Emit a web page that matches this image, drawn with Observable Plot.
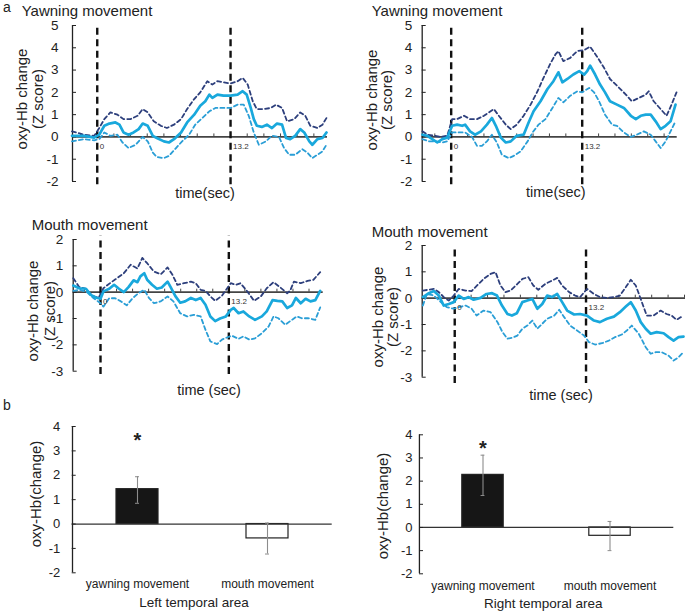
<!DOCTYPE html>
<html><head><meta charset="utf-8">
<script src="https://cdn.jsdelivr.net/npm/d3@7"></script>
<script src="https://cdn.jsdelivr.net/npm/@observablehq/plot@0.6"></script>
<style>
body{margin:0;background:#fff;}
#fig{position:relative;width:685px;height:612px;overflow:hidden;background:#fff;font-family:"Liberation Sans",Arial,sans-serif;color:#222;}
#fig svg{position:absolute;overflow:visible;}
.lab{position:absolute;white-space:nowrap;font-size:15px;line-height:1;}
.c{transform:translate(-50%,-50%);}
.l{transform:translate(0,-50%);}
.rot{transform:translate(-50%,-50%) rotate(-90deg);text-align:center;}
</style></head><body><div id="fig"></div>
<script>
// ---------------- data ----------------
const eventTimes = [0, 13.2];
const eventLabels = ["0", "13.2"];
const yTicksTop = [-2, -1, 0, 1, 2, 3, 4, 5];
const yTicksMid = [-3, -2, -1, 0, 1, 2];
const yTicksBar = [-2, -1, 0, 1, 2, 3, 4];

// Panel a, left, yawning
const a1UpperT = [-2.5,-1.3,-0.3,0.2,0.7,1.3,2.0,2.6,3.3,4.0,4.5,5.0,5.6,6.3,6.9,7.6,8.3,8.9,9.6,10.2,10.9,11.4,11.9,12.5,13.2,13.9,14.4,14.9,15.4,15.8,16.5,17.2,17.7,18.3,18.8,19.5,20.1,20.6,21.1,21.8,22.3,22.7];
const a1UpperV = [0.25,0.1,0.05,0.4,0.8,1.1,1.0,0.8,0.8,0.95,1.25,1.1,0.7,0.5,0.4,0.55,0.8,1.25,1.7,2.0,2.5,2.35,2.5,2.45,2.4,2.5,2.65,2.35,1.6,1.25,1.25,1.3,1.45,1.3,0.7,0.8,1.1,0.95,0.5,0.4,0.55,0.85];
const a1MeanT = [-2.5,-1.3,-0.3,0.2,0.7,1.2,1.8,2.2,2.6,3.1,3.6,4.1,4.5,5.0,5.5,5.9,6.6,7.1,7.6,8.3,8.9,9.6,10.2,10.7,11.1,11.4,11.9,12.5,13.2,13.9,14.4,14.8,15.2,15.5,15.8,16.3,16.8,17.3,17.8,18.3,18.7,19.1,19.6,20.1,20.5,21.0,21.3,21.8,22.3,22.7];
const a1MeanV = [0.05,0.05,-0.03,0.1,0.5,0.6,0.65,0.55,0.2,0.1,0.2,0.35,0.6,0.5,0.05,-0.05,-0.2,-0.25,-0.1,0.2,0.65,1.0,1.4,1.6,1.9,1.75,1.9,1.85,1.85,1.9,2.05,1.9,1.3,0.8,0.5,0.45,0.55,0.4,0.6,0.55,-0.05,-0.1,0.05,0.35,0.2,-0.2,-0.35,-0.1,-0.05,0.2];
const a1LowerT = [-2.5,-1.3,-0.3,0.2,0.7,1.3,2.0,2.5,3.1,3.8,4.5,5.0,5.5,5.9,6.6,7.1,7.8,8.4,9.1,9.7,10.4,11.1,11.7,12.4,13.2,13.9,14.5,15.0,15.5,16.0,16.7,17.3,18.0,18.5,19.0,19.6,20.3,20.8,21.3,21.8,22.3,22.7];
const a1LowerV = [-0.2,-0.1,-0.15,-0.1,0.2,0.05,0.1,-0.25,-0.5,-0.35,0,-0.2,-0.7,-0.9,-0.95,-0.85,-0.5,-0.2,0.1,0.55,0.85,1.15,1.3,1.3,1.3,1.45,1.45,0.95,0.2,-0.35,-0.2,0.05,0,-0.5,-0.8,-0.8,-0.55,-0.7,-0.95,-0.8,-0.65,-0.35];

// Panel a, right, yawning
const a2UpperT = [-2.9,-2.4,-1.7,-1.1,-0.4,0.1,0.6,1.3,1.9,2.6,3.3,3.8,4.3,4.8,5.5,6.0,6.6,7.3,8.0,8.7,9.3,10.0,10.5,10.8,11.3,12.0,12.7,13.4,14.0,14.7,15.4,16.0,16.7,17.6,18.2,18.9,19.6,19.9,20.4,21.1,21.7,22.2,22.7];
const a2UpperV = [0.25,0.1,0.05,0,0.05,0.8,0.8,0.95,0.8,0.8,0.95,1.1,1.25,0.95,0.55,0.35,0.55,0.95,1.45,2.05,2.65,3.3,3.7,3.85,3.4,3.55,3.85,3.9,4.05,3.6,3.1,2.6,2.3,1.9,1.6,1.75,1.9,2.05,1.6,1.25,0.95,1.45,2.0];
const a2MeanT = [-2.9,-2.4,-1.9,-1.4,-0.9,-0.4,0.1,0.6,1.1,1.4,1.9,2.4,3.0,3.6,4.1,4.5,5.0,5.5,6.0,6.6,7.3,7.8,8.3,9.0,9.7,10.3,10.8,11.2,11.7,12.3,12.9,13.4,13.7,14.0,14.5,15.0,15.5,16.0,16.7,17.4,18.1,18.6,19.1,19.6,20.1,20.6,21.1,21.6,22.1,22.6];
const a2MeanV = [0.1,0.05,-0.1,-0.25,-0.1,-0.03,0.5,0.55,0.5,0.55,0.25,0.1,0.25,0.55,0.85,0.5,-0.03,-0.25,-0.2,0.05,0.1,0.65,1.15,1.6,2.15,2.5,2.9,2.45,2.6,2.8,2.95,2.8,2.95,3.2,2.8,2.35,2.0,1.6,1.45,1.3,0.95,0.8,0.95,1.0,1.0,0.7,0.35,0.5,0.7,1.45];
const a2LowerT = [-2.9,-2.2,-1.6,-0.9,-0.4,0.1,0.8,1.4,2.1,2.6,3.1,3.6,4.1,4.6,5.1,5.8,6.3,7.0,7.7,8.2,8.8,9.5,10.2,10.8,11.3,12.0,12.7,13.2,13.9,14.4,14.9,15.5,16.2,16.7,17.4,18.1,18.7,19.4,20.1,20.6,21.1,21.6,22.1,22.6];
const a2LowerV = [-0.1,-0.2,-0.2,-0.25,-0.2,0.2,0.2,0.2,0,-0.4,-0.4,-0.2,0.1,-0.25,-0.8,-0.95,-0.85,-0.65,-0.2,0.2,0.55,0.8,1.3,1.75,1.55,1.85,2.05,2.0,2.2,2.0,1.6,1.0,0.55,0.5,0.2,0,0.1,0.25,0.1,-0.2,-0.5,-0.2,0.25,0.7];

// Panel a, left, mouth
const a3UpperT = [-2.8,-2.2,-1.5,-0.9,-0.2,0.3,1.0,1.7,2.4,3.1,3.8,4.3,4.8,5.5,6.2,6.9,7.4,7.9,8.6,9.3,9.8,10.3,10.8,11.3,11.8,12.5,13.4,13.9,14.4,15.1,15.8,16.5,17.1,17.8,18.5,19.2,19.5,19.9,20.6,21.3,21.9,22.6];
const a3UpperV = [0.53,0.2,0.13,-0.13,-0.22,0.15,0.35,0.53,0.72,1.04,0.9,1.3,1.1,0.78,0.68,0.94,0.66,0.28,0.34,0.4,0.34,0.09,0.05,-0.16,-0.33,-0.13,0.34,0.28,0.34,0.03,-0.33,-0.16,0.15,0.38,0.18,-0.04,0.05,0.4,0.34,0.43,0.47,0.76];
const a3MeanT = [-2.8,-2.2,-1.5,-1.0,-0.5,0,0.3,0.9,1.4,1.9,2.4,2.9,3.4,3.8,4.1,4.5,4.8,5.3,5.8,6.3,6.9,7.2,7.7,8.2,8.7,9.3,9.8,10.3,10.8,11.3,11.8,12.3,12.9,13.4,13.7,14.2,14.7,15.3,15.9,16.6,17.1,17.7,18.2,18.7,19.2,19.7,20.1,20.6,21.1,21.6,22.1,22.6];
const a3MeanV = [0.25,0.15,0.13,-0.1,-0.2,-0.25,0.03,0.13,0.28,0.13,0,0.2,0.45,0.38,0.6,0.72,0.47,0.28,0.13,0.18,0.4,0.2,-0.15,-0.4,-0.35,-0.22,-0.3,-0.22,-0.48,-0.92,-1.1,-1.0,-0.92,-0.67,-0.6,-0.8,-0.73,-0.92,-1.05,-0.92,-0.73,-0.3,-0.33,-0.35,-0.6,-0.5,-0.22,-0.42,-0.25,-0.35,-0.3,0.05];
const a3LowerT = [-2.8,-2.1,-1.4,-0.7,0,0.3,0.9,1.5,2.1,2.7,3.3,3.9,4.5,5.0,5.5,6.2,6.9,7.5,8.2,8.9,9.6,10.3,10.8,11.3,12.0,12.5,13.0,13.5,14.2,14.7,15.3,15.9,16.6,17.3,17.8,18.3,19.0,19.5,20.2,20.7,21.4,22.1,22.6];
const a3LowerV = [0.05,0.09,0,-0.23,-0.42,-0.55,-0.23,-0.23,-0.35,-0.5,-0.23,-0.04,0.09,-0.23,-0.42,-0.35,-0.16,-0.35,-0.8,-0.92,-0.86,-0.92,-1.43,-1.87,-1.97,-1.8,-1.72,-1.65,-1.77,-1.68,-1.8,-1.75,-1.56,-1.3,-0.92,-0.99,-1.24,-1.1,-0.92,-0.99,-0.99,-1.05,-0.58];

// Panel a, right, mouth
const a4UpperT = [-3.2,-2.6,-2.1,-1.6,-1.1,-0.6,-0.1,0.4,1.1,1.7,2.4,2.9,3.6,4.1,4.6,5.1,5.6,6.3,6.8,7.4,7.9,8.4,9.1,9.8,10.3,10.8,11.5,12.1,12.6,13.3,14.0,14.6,15.3,16.0,16.6,17.2,17.7,18.2,18.7,19.3,20.0,20.7,21.3,21.8,22.3,23.0];
const a4UpperV = [0.29,0.32,0.35,0.23,0.04,-0.09,0.1,0.35,0.29,0.27,0.54,0.73,0.92,0.99,0.48,0.23,0.29,0.54,0.73,0.8,0.48,0.32,0.54,0.67,0.77,0.48,0.23,0.1,0.04,0.35,0.16,0.04,0.01,0.04,0.1,0.42,0.7,0.48,-0.03,-0.66,-0.66,-0.47,-0.6,-0.66,-0.82,-0.66];
const a4MeanT = [-3.2,-2.6,-2.1,-1.6,-1.1,-0.6,-0.1,0.4,0.9,1.4,1.9,2.6,3.2,3.75,4.25,4.75,5.3,5.75,6.25,6.8,7.3,7.8,8.3,8.8,9.3,9.8,10.3,10.8,11.3,12.0,12.6,13.3,14.0,14.6,15.3,16.0,16.6,17.2,17.7,18.2,18.7,19.2,19.7,20.3,21.0,21.5,22.0,22.5,23.0];
const a4MeanV = [0.04,0.19,0.27,0.1,-0.28,-0.22,-0.15,0.1,-0.03,0.04,-0.06,0.01,0.16,0.19,0.1,-0.28,-0.6,-0.66,-0.57,-0.15,-0.09,-0.03,-0.4,-0.22,0.1,0.04,0.16,-0.15,-0.47,-0.62,-0.6,-0.66,-0.85,-0.91,-0.78,-0.7,-0.53,-0.32,-0.15,-0.47,-0.91,-1.16,-1.35,-1.29,-1.33,-1.48,-1.61,-1.48,-1.46];
const a4LowerT = [-3.2,-2.8,-2.1,-1.4,-0.8,-0.1,0.4,1.1,1.7,2.2,2.9,3.6,4.3,4.8,5.3,5.8,6.3,6.8,7.3,7.8,8.3,8.8,9.3,10.0,10.5,11.0,11.6,12.3,13.0,13.5,14.1,14.8,15.5,16.1,16.8,17.3,17.8,18.5,19.2,19.7,20.2,20.8,21.5,22.0,22.5,23.0];
const a4LowerV = [-0.28,0.16,0.1,-0.15,-0.34,-0.4,-0.34,-0.28,-0.4,-0.66,-0.47,-0.53,-0.91,-1.29,-1.54,-1.5,-1.42,-1.16,-1.04,-0.85,-1.16,-0.97,-0.78,-0.66,-0.44,-0.72,-1.04,-1.23,-1.42,-1.67,-1.76,-1.71,-1.61,-1.48,-1.38,-1.23,-1.04,-1.35,-1.86,-2.11,-2.05,-2.05,-2.18,-2.37,-2.24,-2.05];

// Panel b
const barCats = ["yawning movement", "mouth movement"];
const leftMean = [1.43, -0.59];
const leftLow = [0.85, -1.23];
const leftHigh = [1.94, 0.04];
const rightMean = [2.27, -0.36];
const rightLow = [1.38, -1.0];
const rightHigh = [3.12, 0.26];
const sigText = ["*", ""];
const sigLevel = [3.43, 3.41];

// ---------------- drawing ----------------
const FONT = '"Liberation Sans", Arial, sans-serif';
const NAVY = "#2d3f7c", CYAN = "#19a8dc", CYAN2 = "#2a9ed6";
const fig = document.getElementById("fig");
const fmt = d => String(d);
const pairs = (T, V) => d3.range(Math.min(T.length, V.length)).map(i => ({t: T[i], v: V[i]}));

function place(svg, left, top) {
  svg.style.left = left + "px"; svg.style.top = top + "px";
  fig.appendChild(svg);
}

function linePanel(p) {
  const [y0, y1] = p.y;
  const pxPerUnit = (p.h - p.mt - p.mb) / (y1 - y0);
  const ticks = d3.range(-2, 16).map(k => +(k * 1.65).toFixed(2)).filter(t => t > p.x[0] + 0.2 && t < p.x[1]);
  const ev = eventTimes.map((t, i) => ({t, label: eventLabels[i]}));
  const svg = Plot.plot({
    width: p.w, height: p.h,
    marginLeft: p.ml, marginRight: p.mr, marginTop: p.mt, marginBottom: p.mb,
    x: {domain: p.x, axis: null},
    y: {domain: p.y},
    style: {background: "transparent", overflow: "visible", fontFamily: FONT, color: "#222"},
    marks: [
      Plot.ruleY([0], {stroke: "#444", strokeWidth: 1.7}),
      Plot.ruleX(ticks, {x: d => d, y1: 0, y2: 3 / pxPerUnit, stroke: "#444", strokeWidth: 1}),
      Plot.ruleX([p.x[0]], {x: d => d, y1: y0, y2: y1, stroke: "#222", strokeWidth: 1.3}),
      Plot.axisY(p.yTicks, {tickSize: -4, tickPadding: p.gap + 4, tickFormat: fmt, label: null, fontSize: 13.5}),
      Plot.ruleX(eventTimes, {x: d => d, y1: p.dash[0], y2: p.dash[1], stroke: "#111", strokeWidth: 2.4, strokeDasharray: "7,4.5"}),
      Plot.line(pairs(p.upper[0], p.upper[1]), {x: "t", y: "v", stroke: NAVY, strokeWidth: 1.8, strokeDasharray: "4,3"}),
      Plot.line(pairs(p.lower[0], p.lower[1]), {x: "t", y: "v", stroke: CYAN2, strokeWidth: 1.8, strokeDasharray: "4,3"}),
      Plot.line(pairs(p.mean[0], p.mean[1]), {x: "t", y: "v", stroke: CYAN, strokeWidth: 2.7}),
      Plot.text(ev, {x: "t", y: 0, text: "label", dx: 2.5, dy: 9.5, textAnchor: "start", fontSize: 8, fill: "#333"})
    ]
  });
  place(svg, p.left, p.top);
}

linePanel({left: 0, top: 0, w: 340, h: 200, ml: 72, mr: 13, mt: 25, mb: 19,
  x: [-2.45, 22.8], y: [-2, 5], yTicks: yTicksTop, dash: [-2.15, 5.05], gap: 14,
  upper: [a1UpperT, a1UpperV], mean: [a1MeanT, a1MeanV], lower: [a1LowerT, a1LowerV]});
linePanel({left: 340, top: 0, w: 345, h: 200, ml: 81.7, mr: 8.3, mt: 25, mb: 19,
  x: [-2.92, 22.77], y: [-2, 5], yTicks: yTicksTop, dash: [-2.15, 5.05], gap: 10,
  upper: [a2UpperT, a2UpperV], mean: [a2MeanT, a2MeanV], lower: [a2LowerT, a2LowerV]});
linePanel({left: 0, top: 200, w: 340, h: 180, ml: 72.7, mr: 17.3, mt: 39, mb: 9.3,
  x: [-2.81, 22.91], y: [-3, 2], yTicks: yTicksMid, dash: [-3.13, 2.12], gap: 10,
  upper: [a3UpperT, a3UpperV], mean: [a3MeanT, a3MeanV], lower: [a3LowerT, a3LowerV]});
linePanel({left: 340, top: 200, w: 345, h: 190, ml: 81.7, mr: 0, mt: 45, mb: 13.3,
  x: [-3.27, 23.2], y: [-3, 2], yTicks: yTicksMid, dash: [-3.24, 2.0], gap: 10,
  upper: [a4UpperT, a4UpperV], mean: [a4MeanT, a4MeanV], lower: [a4LowerT, a4LowerV]});

function barPanel(p) {
  const data = barCats.map((c, i) => ({c, m: p.mean[i], lo: p.lo[i], hi: p.hi[i], sig: sigText[i], i}));
  const step = (p.w - p.ml - p.mr) / barCats.length;
  const svg = Plot.plot({
    width: p.w, height: p.h,
    marginLeft: p.ml, marginRight: p.mr, marginTop: p.mt, marginBottom: p.mb,
    x: {domain: barCats, padding: 0},
    y: {domain: [-2, 4]},
    style: {background: "transparent", overflow: "visible", fontFamily: FONT, color: "#222"},
    marks: [
      Plot.barY(data, {x: "c", y: "m", fill: d => d.i === 0 ? "#161616" : "#ffffff", stroke: "#222", strokeWidth: 1.2, insetLeft: p.inset, insetRight: p.inset}),
      Plot.ruleY([0], {stroke: "#333", strokeWidth: 1.3}),
      Plot.ruleX(data, {x: "c", y1: "lo", y2: "hi", stroke: "#8c8c8c", strokeWidth: 1.1}),
      Plot.tickY(data, {x: "c", y: "lo", stroke: "#8c8c8c", insetLeft: step / 2 - 2, insetRight: step / 2 - 2}),
      Plot.tickY(data, {x: "c", y: "hi", stroke: "#8c8c8c", insetLeft: step / 2 - 2, insetRight: step / 2 - 2}),
      Plot.ruleX([barCats[0]], {x: d => d, dx: -step / 2, y1: -2, y2: 4, stroke: "#222", strokeWidth: 1.3}),
      Plot.axisY(yTicksBar, {tickSize: -4, tickPadding: p.gap + 4, tickFormat: fmt, label: null, fontSize: 13}),
      Plot.axisX({tickSize: 0, tickPadding: p.xpad, label: null, fontSize: 12}),
      Plot.text(data, {x: "c", y: () => p.sigY, text: "sig", fontSize: 20, fontWeight: "bold", fill: "#222"})
    ]
  });
  place(svg, p.left, p.top);
}

barPanel({left: 0, top: 400, w: 340, h: 212, ml: 71.7, mr: 8.3, mt: 26, mb: 39.7, inset: 44, gap: 12, xpad: 7,
  mean: leftMean, lo: leftLow, hi: leftHigh, sigY: sigLevel[0]});
barPanel({left: 340, top: 400, w: 345, h: 212, ml: 79, mr: 11.7, mt: 34.3, mb: 38.7, inset: 42.8, gap: 7, xpad: 8,
  mean: rightMean, lo: rightLow, hi: rightHigh, sigY: sigLevel[1]});

// ---------------- text labels ----------------
const panelTitles = ["Yawning movement", "Yawning movement", "Mouth movement", "Mouth movement"];
const yLabelLines = ["oxy-Hb change", "(Z score)"];
const barYLabel = "oxy-Hb(change)";
const areaLabels = ["Left temporal area", "Right temporal area"];

function label(text, x, y, cls, extra) {
  const d = document.createElement("div");
  d.className = "lab " + cls;
  d.style.left = x + "px"; d.style.top = y + "px";
  if (extra) Object.assign(d.style, extra);
  d.innerHTML = text;
  fig.appendChild(d);
}
label("a", 3, 7, "l", {fontSize: "14px"});
label("b", 3, 405, "l", {fontSize: "14px"});
label(panelTitles[0], 21.7, 9.5, "l");
label(panelTitles[1], 371.7, 10, "l");
label(panelTitles[2], 31.7, 224.3, "l");
label(panelTitles[3], 371.7, 230.7, "l");
const yl = yLabelLines.join("<br>");
label(yl, 29.5, 99, "rot", {lineHeight: "16px"});
label(yl, 379, 100, "rot", {lineHeight: "15px"});
label(yl, 41, 311, "rot", {lineHeight: "16.5px"});
label(yl, 384.5, 317, "rot", {lineHeight: "15px"});
label("time(sec)", 205, 192.7, "c", {fontSize: "14.5px"});
label("time(sec)", 555.8, 191.7, "c", {fontSize: "14.5px"});
label("time (sec)", 209, 390, "c", {fontSize: "14.5px"});
label("time (sec)", 561, 395, "c", {fontSize: "14.5px"});
label(barYLabel, 35, 494, "rot");
label(barYLabel, 382, 505.5, "rot");
label(areaLabels[0], 194, 603.3, "c", {fontSize: "13.5px"});
label(areaLabels[1], 543.3, 604, "c", {fontSize: "13.5px"});
</script></body></html>
